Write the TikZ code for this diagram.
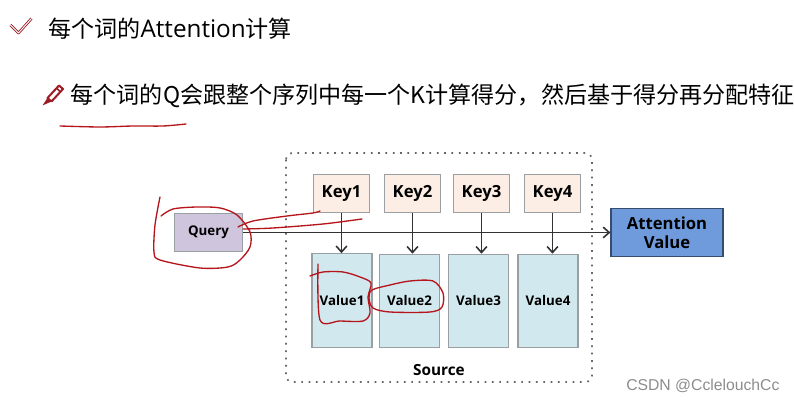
\documentclass[tikz,border=0pt]{standalone}
\usepackage{fontspec}
\setmainfont{Open Sans}
\newfontfamily\cjk{Noto Sans CJK SC}
\newfontfamily\csdnfont{Liberation Sans}
\usetikzlibrary{arrows.meta}
\definecolor{inkred}{HTML}{B5161C}
\definecolor{iconred}{HTML}{9C1C26}
\definecolor{edgegray}{HTML}{9A9FA3}
\definecolor{keyfill}{HTML}{FCEEE4}
\definecolor{valuefill}{HTML}{D2E8EF}
\definecolor{queryfill}{HTML}{CFC6DE}
\definecolor{resultfill}{HTML}{6F9BDD}
\tikzset{
	keybox/.style={draw=edgegray, line width=0.9pt, fill=keyfill, inner sep=0pt, minimum width=42.5pt, minimum height=28pt, font=\fontsize{12.5}{14}\selectfont\bfseries},
	valuebox/.style={draw=edgegray, line width=0.9pt, fill=valuefill, inner sep=0pt, minimum width=45pt, minimum height=70pt, font=\fontsize{10}{12}\selectfont\bfseries},
	ink/.style={draw=inkred, line width=1pt, line cap=round, line join=round},
	flow/.style={-{Straight Barb[length=4.5pt, width=8pt]}, line width=1.2pt, black!80},
}
\begin{document}
\begin{tikzpicture}[x=0.75pt, y=-0.75pt]
		%%%%% START %%%%%
		\useasboundingbox (0, 0) rectangle (794, 402);
		
		% headings
		\draw[iconred, line width=2pt, line join=round] (10.5, 25) -- (18.5, 33) -- (31.5, 18.5);
		\draw[white, line width=0.7pt, line join=round] (10.5, 25) -- (18.5, 33) -- (31.5, 18.5);
		\node[anchor=west, inner sep=0pt, font=\cjk\fontsize{17.3}{20}\selectfont] (title) at (48, 29) {每个词的{\rmfamily\fontsize{18.2}{20}\selectfont Attention}计算};
		
		\draw[iconred, line width=1.5pt, line join=round] (47.5, 98) -- (59, 85.5) -- (63, 89) -- (51.5, 101.5) -- cycle;
		\draw[iconred, line width=1.2pt] (56.5, 88) -- (60.5, 92);
		\fill[iconred] (47.5, 98) -- (51.5, 101.5) -- (42.5, 105.5) -- cycle;
		\node[anchor=west, inner sep=0pt, font=\cjk\fontsize{17.3}{20}\selectfont] (point) at (70.5, 96) {每个词的Q会跟整个序列中每一个K计算得分，然后基于得分再分配特征};
		
		% source frame
		\draw[line width=1.3pt, black!60, dash pattern=on 1.3pt off 4.2pt, rounded corners=5pt] (286, 153) rectangle (592, 382);
		\node[font=\fontsize{11.5}{13}\selectfont\bfseries] (source) at (439, 370) {Source};
		
		% boxes
		\node[draw=edgegray, line width=0.9pt, fill=queryfill, inner sep=0pt, minimum width=51.5pt, minimum height=28pt, font=\fontsize{10}{12}\selectfont\bfseries] (query) at (208.5, 232.5) {Query};
		\node[keybox] (key1) at (341.5, 193.5) {Key1};
		\node[keybox] (key2) at (412.5, 193.5) {Key2};
		\node[keybox] (key3) at (481.5, 193.5) {Key3};
		\node[keybox] (key4) at (552.5, 193.5) {Key4};
		\node[valuebox] (value1) at (342, 300.5) {Value1};
		\node[valuebox] (value2) at (409.5, 301) {Value2};
		\node[valuebox] (value3) at (478.5, 301) {Value3};
		\node[valuebox] (value4) at (548, 301) {Value4};
		\node[draw=black!50!resultfill, line width=0.9pt, fill=resultfill, inner sep=0pt, minimum width=84pt, minimum height=36.5pt, align=center, font=\fontsize{12.5}{14.5}\selectfont\bfseries] (result) at (667, 232.5) {Attention\\Value};
		
		% connectors
		\draw[flow] (query) -- (result);
		\draw[flow] (key1) -- (key1 |- value1.north);
		\draw[flow] (key2) -- (key2 |- value2.north);
		\draw[flow] (key3) -- (key3 |- value3.north);
		\draw[flow] (key4) -- (key4 |- value4.north);
		
		% red pen marks
		\draw[ink] plot[smooth] coordinates {(60, 126) (100, 127) (133, 126) (163, 126) (186, 124)};
		\draw[ink] plot[smooth] coordinates {(160, 197) (155, 225) (154, 252) (160, 260) (200, 268) (228, 267) (240, 260) (250, 247) (250, 232) (237, 215) (220, 208) (197, 207) (173, 209) (161, 216)};
		\draw[ink] plot[smooth] coordinates {(238, 227) (253, 221) (287, 216) (313, 213) (320, 211)};
		\draw[ink] plot[smooth] coordinates {(243, 229) (273, 228) (323, 224) (362, 219)};
		\draw[ink] plot[smooth] coordinates {(318, 264) (320, 320) (340, 321) (363, 321) (370, 313) (368, 297) (371, 283) (360, 277) (343, 272) (323, 272) (310, 276)};
		\draw[ink] plot[smooth cycle] coordinates {(372, 290) (390, 285) (410, 281) (433, 281) (443, 293) (442, 307) (430, 312) (390, 312) (373, 308) (369, 298)};
		
		% watermark
		\node[anchor=west, inner sep=0pt, text=black!45, font=\csdnfont\fontsize{11.8}{13}\selectfont] (csdn) at (626, 386) {CSDN @CclelouchCc};
		
		%%%%% END %%%%%
	\end{tikzpicture}
\end{document}
